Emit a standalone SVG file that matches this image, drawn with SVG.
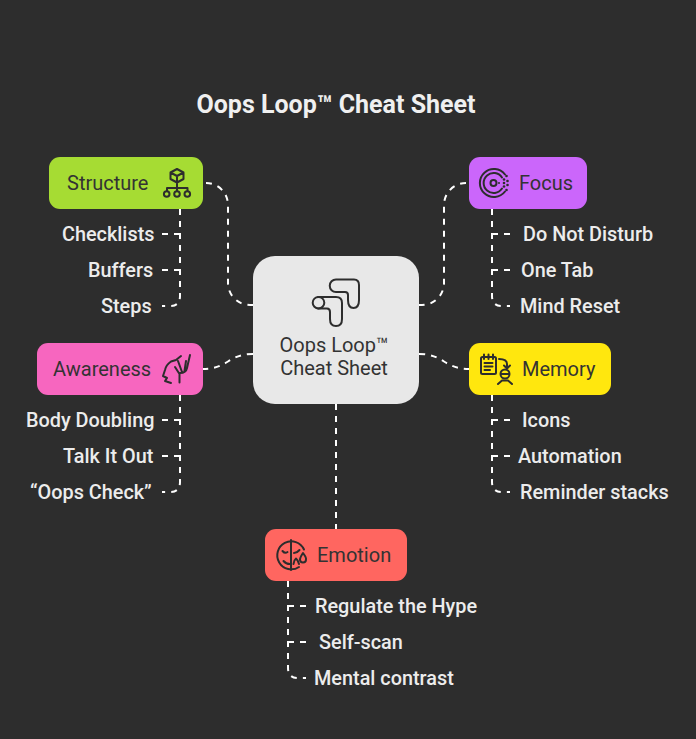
<svg xmlns="http://www.w3.org/2000/svg" width="696" height="739" viewBox="0 0 696 739">
<style>
text{font-family:Roboto,"Liberation Sans",sans-serif}
.t{font-size:19.85px;fill:#ececec;font-weight:500;text-anchor:start}
.n{font-size:20px;fill:#333333}
.c{fill:none;stroke:#fff;stroke-width:2;stroke-dasharray:6 6}
.i{fill:none;stroke:#2d2d2d;stroke-width:2;stroke-linecap:round;stroke-linejoin:round}
.f{fill:#2d2d2d}
</style>
<rect width="696" height="739" fill="#2d2d2d"/>
<text x="336" y="113" text-anchor="middle" font-size="25" font-weight="700" fill="#f0f0f0">Oops Loop™ Cheat Sheet</text>
<g id="connectors">
<path class="c" d="M206 183A22 22 0 0 1 228 205V283A22 22 0 0 0 250 305H253"/>
<path class="c" d="M466 183A22 22 0 0 0 444 205V283A22 22 0 0 1 422 305H419"/>
<path class="c" stroke-dashoffset="1" d="M203 369C228 369 228 354 253 354"/>
<path class="c" stroke-dashoffset="1" d="M469 369C444 369 444 354 419 354"/>
<path class="c" d="M336 404V529"/>
<path class="c" d="M180 209V296Q180 306 170 306H162"/>
<path class="c" d="M162 234H180M162 270H180"/>
<path class="c" d="M492 209V296Q492 306 502 306H510"/>
<path class="c" d="M510 234H492M510 270H492"/>
<path class="c" d="M180 395V482Q180 492 170 492H162"/>
<path class="c" d="M162 420H180M162 456H180"/>
<path class="c" d="M492 395V482Q492 492 502 492H510"/>
<path class="c" d="M510 420H492M510 456H492"/>
<path class="c" d="M288 581V668Q288 678 298 678H306"/>
<path class="c" d="M306 606H288M306 642H288"/>
</g>
<g id="center">
<rect x="253" y="256" width="166" height="148" rx="22" fill="#e8e8e8"/>
<path class="i" d="M336 279.5H354Q359 279.5 359 285V300Q359 308 353.500 308Q348 308 348 300V295Q348 292 345 292H336A6.250 6.250 0 0 1 336 279.500Z"/>
<path class="i" d="M318 297H336Q342 297 342 303V319Q342 326 336 326Q330 326 330 319V312Q330 308.500 327 308.500H318"/>
<circle class="i" cx="318.500" cy="302.700" r="5.800"/>
<text class="n" x="334" y="352" text-anchor="middle">Oops Loop™</text>
<text class="n" x="334" y="375" text-anchor="middle">Cheat Sheet</text>
</g>
<g id="structure">
<rect x="49" y="157" width="154" height="52" rx="11" fill="#a6dc33"/>
<text class="n" x="67" y="190">Structure</text>
<path class="i" d="M177 169L183.500 172.500V179L177 182.500L170.500 179V172.500ZM170.500 172.500L177 176L183.500 172.500M177 176V191M167 191V188H187.500V191"/>
<circle class="i" cx="166.700" cy="194" r="2.800"/><circle class="i" cx="177" cy="194" r="2.800"/><circle class="i" cx="187.300" cy="194" r="2.800"/>
</g>
<g id="focus">
<rect x="469" y="157" width="118" height="52" rx="11" fill="#cb66fb"/>
<text class="n" x="519" y="190">Focus</text>
<path class="i" stroke-width="1.500" d="M505 174.500A14 14 0 1 0 505 191.500M502 177.500A10 10 0 1 0 502 188.500"/>
<circle class="i" cx="493.500" cy="183" r="3"/>
<circle class="f" cx="499" cy="183" r="1"/>
<circle class="f" cx="504" cy="179.500" r="1.300"/><circle class="f" cx="504" cy="183" r="1.300"/><circle class="f" cx="504" cy="186.500" r="1.300"/><circle class="f" cx="507.500" cy="181" r="1.300"/><circle class="f" cx="507.500" cy="185" r="1.300"/><circle class="f" cx="506.500" cy="176" r="1.300"/><circle class="f" cx="506.500" cy="190" r="1.300"/>
</g>
<g id="awareness">
<rect x="37" y="343" width="166" height="52" rx="11" fill="#f766bf"/>
<text class="n" x="53" y="376">Awareness</text>
<path class="i" d="M181 356L176 360L171 361.500Q166 365 165 370L163 376L167 378L165 381L171 383M179.500 382.500V374L175 367M182 372L178 361M184.500 371L186 361M180 373Q186 373 187 368L190 355"/>
</g>
<g id="memory">
<rect x="469" y="343" width="142" height="52" rx="11" fill="#ffe70e"/>
<text class="n" x="522" y="376">Memory</text>
<rect class="i" x="481" y="357" width="15" height="17" rx="1.500"/>
<path class="i" d="M484 354.500V359M488.500 354.500V359M493 354.500V359M484.500 363H492.500M484.500 366.500H492.500M484.500 370H490M499 359Q507 359 507 364V368M504 365.500L507 368.500L510 365.500"/>
<circle class="i" cx="505" cy="374" r="4.500"/>
<path class="i" d="M501 374H509M498 384L502 380.500H508L512 384"/>
</g>
<g id="emotion">
<rect x="265" y="529" width="142" height="52" rx="11" fill="#ff6660"/>
<text class="n" x="317" y="562">Emotion</text>
<path class="i" d="M304 549.500A14 14 0 1 0 299 567"/>
<path class="i" d="M291 540V570M282.500 551Q285 554 287.500 552M294 553Q297 553 299.500 550M283.500 561Q286 564 290 564M293.500 564Q294 560 296 558.500Q298 560 299 564"/>
<path class="i" stroke-width="1.600" d="M303 553Q306.500 557.500 306 559.500A3 3 0 0 1 300 559.500Q300 557.500 303 553Z"/>
</g>
<g id="labels">
<text class="t" x="62" y="241">Checklists</text>
<text class="t" x="88" y="277">Buffers</text>
<text class="t" x="101" y="313">Steps</text>
<text class="t" x="523" y="241">Do Not Disturb</text>
<text class="t" x="521" y="277">One Tab</text>
<text class="t" x="520" y="313">Mind Reset</text>
<text class="t" x="26" y="427">Body Doubling</text>
<text class="t" x="63" y="463">Talk It Out</text>
<text class="t" x="30" y="499">“Oops Check”</text>
<text class="t" x="522" y="427">Icons</text>
<text class="t" x="518" y="463">Automation</text>
<text class="t" x="520" y="499">Reminder stacks</text>
<text class="t" x="315" y="613">Regulate the Hype</text>
<text class="t" x="319" y="649">Self-scan</text>
<text class="t" x="314" y="685">Mental contrast</text>
</g>
</svg>
